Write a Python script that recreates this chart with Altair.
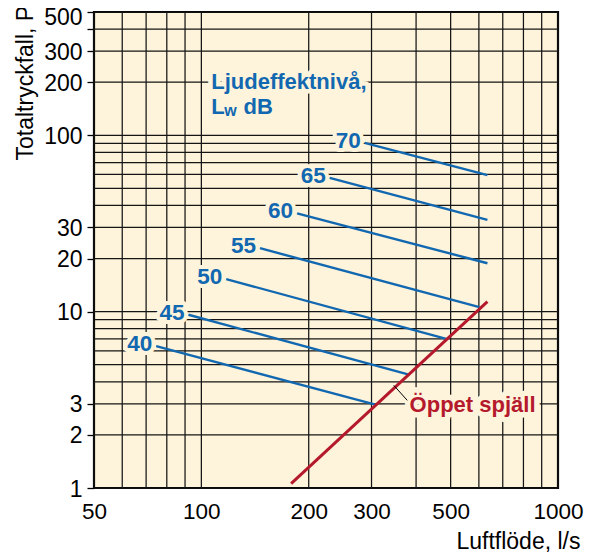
import altair as alt
import pandas as pd

# ---- data ----
levels = [40, 45, 50, 55, 60, 65, 70]
start_flow = [74.7, 92.0, 117.4, 146.0, 185.5, 229.0, 287.0]
start_pa = [6.38, 9.6, 15.3, 22.9, 36.1, 57.4, 90.6]
end_flow = [307.7, 382.0, 486.0, 602.0, 634.0, 634.0, 634.0]
end_pa = [2.97, 4.39, 7.0, 10.6, 18.8, 33.1, 59.4]

open_flow = [178.5, 634.0]
open_pa = [1.06, 11.4]

x_grid = [50, 60, 70, 80, 90, 100, 200, 300, 400, 500, 600, 700, 800, 900, 1000]
y_grid = [1, 2, 3, 4, 5, 6, 7, 8, 9, 10, 20, 30, 40, 50, 60, 70, 80, 90,
          100, 200, 300, 400, 500]
x_label_values = [50, 100, 200, 300, 500, 1000]
y_tick_values = [1, 2, 3, 10, 20, 30, 100, 200, 300, 400, 500]

# annotation anchors (flow, pressure)
legend_texts = ["Ljudeffektnivå,", "L", "dB"]
legend_flow = [106.6, 106.6, 131.3]
legend_pa = [182.9, 132.1, 132.1]
sub_text = ["w"]
sub_flow = [116.0]
sub_pa = [128.0]

open_label = ["Öppet spjäll"]
open_label_flow = [383.6]
open_label_pa = [2.70]
leader_flow = [346.4, 377.9]
leader_pa = [3.82, 3.14]

BG = "#FEF4DC"
BLUE = "#1268B0"
RED = "#B5192C"
FONT = "Liberation Sans"

# ---- tables ----
rows = []
for lv, f0, p0, f1, p1 in zip(levels, start_flow, start_pa, end_flow, end_pa):
    rows.append({"level": lv, "flow": f0, "pa": p0})
    rows.append({"level": lv, "flow": f1, "pa": p1})
df_lines = pd.DataFrame(rows)
df_labels = pd.DataFrame({"level": [str(v) for v in levels],
                          "flow": start_flow, "pa": start_pa})
df_open = pd.DataFrame({"flow": open_flow, "pa": open_pa})
df_xgrid = pd.DataFrame({"flow": x_grid})
df_ygrid = pd.DataFrame({"pa": y_grid})
df_legend = pd.DataFrame({"t": legend_texts, "flow": legend_flow, "pa": legend_pa})
df_sub = pd.DataFrame({"t": sub_text, "flow": sub_flow, "pa": sub_pa})
df_openlab = pd.DataFrame({"t": open_label, "flow": open_label_flow, "pa": open_label_pa})
df_leader = pd.DataFrame({"flow": [leader_flow[0]], "pa": [leader_pa[0]],
                          "flow2": [leader_flow[1]], "pa2": [leader_pa[1]]})

xscale = alt.Scale(type="log", domain=[50, 1000], nice=False)
yscale = alt.Scale(type="log", domain=[1, 500], nice=False)

xaxis = alt.Axis(
    values=x_label_values, grid=False, ticks=False, tickSize=0, domain=False,
    labelExpr="format(datum.value, 'd')", labelFont=FONT, labelFontSize=22.5,
    labelColor="black", labelPadding=12, labelFlush=False,
    title="Luftflöde, l/s", titleFont=FONT, titleFontSize=23,
    titleFontWeight="normal", titleColor="black", titleX=486, titleY=60,
    titleAlign="right", titleBaseline="alphabetic",
)
yaxis = alt.Axis(
    values=y_tick_values, grid=False, ticks=True, tickSize=7, tickWidth=1.3,
    tickColor="black", domain=False,
    labelExpr="datum.value == 400 ? '' : format(datum.value, 'd')",
    labelFont=FONT, labelFontSize=23, labelColor="black", labelPadding=5,
    labelOffset={"condition": {"test": "datum.value == 500", "value": 5}, "value": 1},
    labelFlush=False,
    title="Totaltryckfall, Pa", titleFont=FONT, titleFontSize=23,
    titleFontWeight="normal", titleColor="black", titleAngle=270,
    titleX=-62, titleY=148, titleAlign="left", titleBaseline="alphabetic",
)

X = alt.X("flow:Q", scale=xscale, axis=xaxis)
Y = alt.Y("pa:Q", scale=yscale, axis=yaxis)

xgrid = alt.Chart(df_xgrid).mark_rule(color="#151515", strokeWidth=1.25).encode(x=X)
ygrid = alt.Chart(df_ygrid).mark_rule(color="#151515", strokeWidth=1.25).encode(y=Y)

halo = dict(fill=BG, stroke=BG, strokeJoin="round")

num_halo = alt.Chart(df_labels).mark_text(
    font=FONT, fontSize=22.5, fontWeight="bold", align="right", baseline="middle",
    dx=-4, dy=-2, strokeWidth=8, **halo).encode(x=X, y=Y, text="level:N")
num_text = alt.Chart(df_labels).mark_text(
    font=FONT, fontSize=22.5, fontWeight="bold", align="right", baseline="middle",
    dx=-4, dy=-2, color=BLUE).encode(x=X, y=Y, text="level:N")

leg_halo = alt.Chart(df_legend).mark_text(
    font=FONT, fontSize=22, fontWeight="bold", align="left", baseline="alphabetic",
    strokeWidth=9, **halo).encode(x=X, y=Y, text="t:N")
leg_text = alt.Chart(df_legend).mark_text(
    font=FONT, fontSize=22, fontWeight="bold", align="left", baseline="alphabetic",
    color=BLUE).encode(x=X, y=Y, text="t:N")
sub_mark = alt.Chart(df_sub).mark_text(
    font=FONT, fontSize=16, fontWeight="bold", align="left", baseline="alphabetic",
    color=BLUE).encode(x=X, y=Y, text="t:N")

open_halo = alt.Chart(df_openlab).mark_text(
    font=FONT, fontSize=22, fontWeight="bold", align="left", baseline="alphabetic",
    strokeWidth=11, **halo).encode(x=X, y=Y, text="t:N")
open_text = alt.Chart(df_openlab).mark_text(
    font=FONT, fontSize=22, fontWeight="bold", align="left", baseline="alphabetic",
    color=RED).encode(x=X, y=Y, text="t:N")

blue_lines = alt.Chart(df_lines).mark_line(color=BLUE, strokeWidth=2.4).encode(
    x=X, y=Y, detail="level:N")
red_line = alt.Chart(df_open).mark_line(color=RED, strokeWidth=3).encode(x=X, y=Y)
leader = alt.Chart(df_leader).mark_rule(color="black", strokeWidth=1).encode(
    x=X, y=Y, x2="flow2:Q", y2="pa2:Q")

chart = alt.layer(
    xgrid, ygrid, num_halo, leg_halo, open_halo,
    blue_lines, red_line, leader,
    num_text, leg_text, sub_mark, open_text,
).properties(
    width=464, height=476,
    autosize=alt.AutoSizeParams(type="none"),
    padding={"left": 86, "top": 4, "right": 27, "bottom": 65},
    background="white",
).configure_view(
    fill=BG, stroke="black", strokeWidth=2.2,
)

chart.save("out.html", embed_options={"renderer": "svg", "actions": False})
